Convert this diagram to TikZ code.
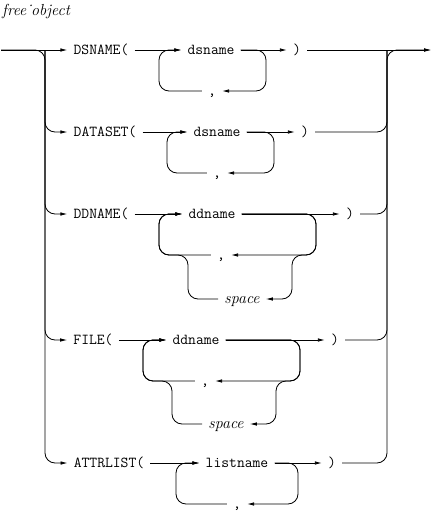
\documentclass[tikz,border=0pt]{standalone}
\usetikzlibrary{arrows.meta}
\begin{document}
\begin{tikzpicture}[x=1pt,y=-1pt,every node/.style={inner xsep=6pt,inner ysep=0pt,text height=8pt,text depth=0pt},kw/.style={font=\fontsize{15.2}{18}\selectfont\ttfamily},alt/.style={font=\fontsize{16}{19}\selectfont\itshape},arr/.style={-{Latex[length=7pt,width=3.5pt]},line width=0.8pt,rounded corners=10pt},rail/.style={line width=0.8pt,rounded corners=10pt}]
\useasboundingbox (0,0) rectangle (432,515);
\node[alt,anchor=base west,inner xsep=0pt] (title) at (2,15) {free˙object};
\coordinate (start) at (1,50);
\coordinate (stop) at (431,50);
\coordinate (lrail) at (45,50);
\coordinate (rrail) at (387,50);
% DSNAME
\node[kw] (kw1) at (101,50) {DSNAME(};
\node[kw] (dsn1) at (211,50) {dsname};
\node[kw] (cm1) at (212,91) {,};
\node[kw] (cl1) at (297,50) {)};
\coordinate (l1) at (159,50);
\coordinate (r1) at (266,50);
\draw[arr] (kw1.east) -- (dsn1.west);
\draw[arr] (cm1.west) -| (l1) -- (dsn1.west);
\draw[arr] (dsn1.east) -- (cl1.west);
\draw[arr] (dsn1.east) -| (r1 |- cm1) -- (cm1.east);
% DATASET
\node[kw] (kw2) at (105,132) {DATASET(};
\node[kw] (dsn2) at (217,132) {dsname};
\node[kw] (cm2) at (217,173) {,};
\node[kw] (cl2) at (305,132) {)};
\coordinate (l2) at (167,132);
\coordinate (r2) at (274,132);
\draw[arr] (kw2.east) -- (dsn2.west);
\draw[arr] (cm2.west) -| (l2) -- (dsn2.west);
\draw[arr] (dsn2.east) -- (cl2.west);
\draw[arr] (dsn2.east) -| (r2 |- cm2) -- (cm2.east);
% DDNAME
\node[kw] (kw3) at (101,214) {DDNAME(};
\node[kw] (dd3) at (212,214) {ddname};
\node[kw] (cm3) at (221,255) {,};
\node[alt] (sp3) at (242,299) {space};
\node[kw] (cl3) at (350,214) {)};
\coordinate (l3) at (159,214);
\coordinate (r3) at (316,214);
\coordinate (lb3) at (188,214);
\coordinate (rb3) at (292,214);
\draw[arr] (kw3.east) -- (dd3.west);
\draw[arr] (cm3.west) -| (l3) -- (dd3.west);
\draw[arr] (sp3.west) -| (lb3 |- cm3) -| (l3) -- (dd3.west);
\draw[arr] (dd3.east) -- (cl3.west);
\draw[arr] (dd3.east) -| (r3 |- cm3) -- (cm3.east);
\draw[arr] (dd3.east) -| (r3 |- cm3) -| (rb3 |- sp3) -- (sp3.east);
% FILE
\node[kw] (kw4) at (93,340) {FILE(};
\node[kw] (dd4) at (196,340) {ddname};
\node[kw] (cm4) at (205,381) {,};
\node[alt] (sp4) at (226,424) {space};
\node[kw] (cl4) at (335,340) {)};
\coordinate (l4) at (143,340);
\coordinate (r4) at (300,340);
\coordinate (lb4) at (172,340);
\coordinate (rb4) at (276,340);
\draw[arr] (kw4.east) -- (dd4.west);
\draw[arr] (cm4.west) -| (l4) -- (dd4.west);
\draw[arr] (sp4.west) -| (lb4 |- cm4) -| (l4) -- (dd4.west);
\draw[arr] (dd4.east) -- (cl4.west);
\draw[arr] (dd4.east) -| (r4 |- cm4) -- (cm4.east);
\draw[arr] (dd4.east) -| (r4 |- cm4) -| (rb4 |- sp4) -- (sp4.east);
% ATTRLIST
\node[kw] (kw5) at (109,463) {ATTRLIST(};
\node[kw] (ls5) at (237,463) {listname};
\node[kw] (cm5) at (237,504) {,};
\node[kw] (cl5) at (332,463) {)};
\coordinate (l5) at (176,463);
\coordinate (r5) at (298,463);
\draw[arr] (kw5.east) -- (ls5.west);
\draw[arr] (cm5.west) -| (l5) -- (ls5.west);
\draw[arr] (ls5.east) -- (cl5.west);
\draw[arr] (ls5.east) -| (r5 |- cm5) -- (cm5.east);
% rails
\draw[arr] (start) -- (kw1.west);
\draw[arr] (start) -| (lrail |- kw5) -- (kw5.west);
\draw[arr] (lrail) |- (kw2.west);
\draw[arr] (lrail) |- (kw3.west);
\draw[arr] (lrail) |- (kw4.west);
\draw[arr] (cl1.east) -- (stop);
\draw[arr] (cl5.east) -| (rrail) -- (stop);
\draw[rail] (cl2.east) -| (rrail);
\draw[rail] (cl3.east) -| (rrail);
\draw[rail] (cl4.east) -| (rrail);
\end{tikzpicture}
\end{document}
